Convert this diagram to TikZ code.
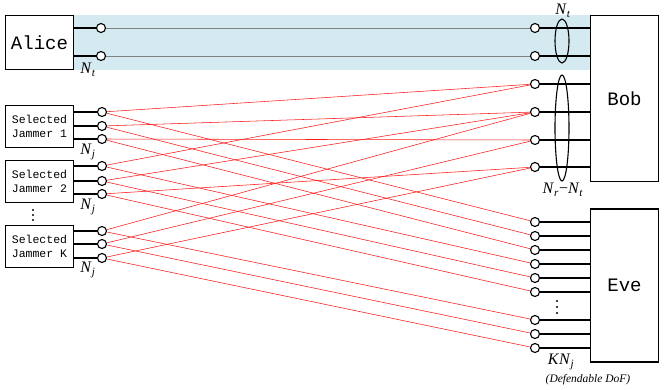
\documentclass[tikz,border=0pt]{standalone}
\usepackage{fontspec}
\setmainfont{Liberation Serif}
\setmonofont{Liberation Mono}
\usepackage{xcolor}
\usetikzlibrary{calc}

\definecolor{bandblue}{RGB}{212,234,240}
\newcommand{\antsym}[2]{\textit{#1}\textsubscript{\textit{#2}}}

\begin{document}
\begin{tikzpicture}[x=1pt,y=-1pt,
  box/.style={draw,line width=1.6pt,inner sep=0pt,fill=white,
    font=\ttfamily\fontsize{19}{21}\selectfont},
  jambox/.style={box,minimum width=68pt,minimum height=42pt,align=center,
    font=\ttfamily\fontsize{11.5}{14}\selectfont},
  port/.style={circle,draw,line width=1.1pt,minimum size=9pt,inner sep=0pt,fill=white},
  stub/.style={line width=1.2pt},
  link/.style={red!90!white,line width=0.55pt},
  los/.style={gray,line width=0.6pt},
  lbl/.style={inner sep=0pt,font=\fontsize{16}{18}\selectfont}]
\useasboundingbox (0,0) rectangle (664,389);

 %shaded band Alice -> Bob:
 \fill[bandblue] (74,15) rectangle (590,70);

 %terminals:
 \node[box,minimum width=68pt,minimum height=54pt] (alice) at (39.5,42.5) {Alice};
 \node[box,minimum width=68pt,minimum height=166pt] (bob) at (624.5,98.5) {Bob};
 \node[box,minimum width=68pt,minimum height=153pt] (eve) at (624.5,285.5) {Eve};
 \node[jambox] (jam1) at (39.5,126.5) {Selected\\Jammer 1};
 \node[jambox] (jam2) at (39.5,181.5) {Selected\\Jammer 2};
 \node[jambox] (jam3) at (39.5,246.5) {Selected\\Jammer K};

 %antennas:
 \foreach \y [count=\i] in {28,56}
   \node[port] (a\i) at (101,\y) {};
 \foreach \y [count=\i] in {28,56,84,112,140,167}
   \node[port] (b\i) at (535,\y) {};
 \foreach \y [count=\i] in {222,236,250,264,278,292,320,334,348}
   \node[port] (e\i) at (535,\y) {};
 \foreach \y [count=\i] in {112,126,139,166,181,194,231,244,258}
   \node[port] (p\i) at (102,\y) {};

 \foreach \i in {1,2}{
   \draw[stub] (alice.east |- a\i) -- (a\i);
   \draw[los] (a\i) -- (b\i);
 }
 \foreach \i in {1,...,6}
   \draw[stub] (b\i) -- (bob.west |- b\i);
 \foreach \i in {1,...,9}
   \draw[stub] (e\i) -- (eve.west |- e\i);
 \foreach \i/\j in {1/1,2/1,3/1,4/2,5/2,6/2,7/3,8/3,9/3}
   \draw[stub] (jam\j.east |- p\i) -- (p\i);

 %jamming links:
 \foreach \i/\k in {1/3,2/4,3/5,4/3,5/4,6/6,7/4,8/5,9/6}{
   \draw[link] (p\i) -- (b\k);
   \draw[link] (p\i) -- (e\i);
 }

 %antenna groups at Bob:
 \draw[line width=1.1pt] (562,41) ellipse [x radius=7, y radius=22];
 \draw[line width=1.1pt] (562,128) ellipse [x radius=7, y radius=53];

 %more jammers / more antennas:
 \foreach \y in {210,215,220}
   \fill (33,\y) circle [radius=1.1];
 \foreach \y in {301,307,313}
   \fill (557,\y) circle [radius=1.1];

 %labels:
 \node[lbl] (ntA) at (88,70) {\antsym{N}{t}};
 \node[lbl] (njA) at (88,152) {\antsym{N}{j}};
 \node[lbl] (njB) at (88,207) {\antsym{N}{j}};
 \node[lbl] (njC) at (88,270) {\antsym{N}{j}};
 \node[lbl] (ntB) at (563,11) {\antsym{N}{t}};
 \node[lbl] (nrt) at (563,190) {\antsym{N}{r}−\antsym{N}{t}};
 \node[lbl] (knj) at (561,362) {\textit{K}\antsym{N}{j}};
 \node[inner sep=0pt,font=\itshape\fontsize{11.5}{13}\selectfont] (dof) at (588,380) {(Defendable DoF)};

\end{tikzpicture}
\end{document}
